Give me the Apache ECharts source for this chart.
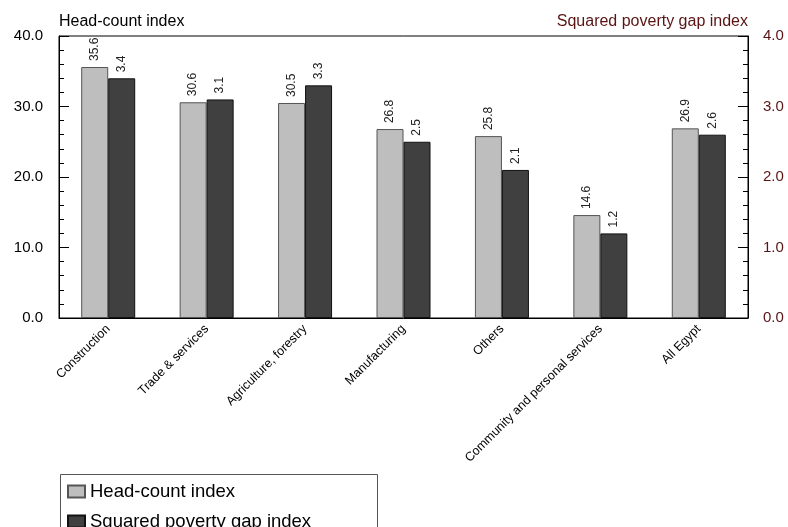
<!DOCTYPE html>
<html>
<head>
<meta charset="utf-8">
<script src="https://cdn.jsdelivr.net/npm/echarts@6/dist/echarts.min.js"></script>
<style>
  html, body { margin: 0; padding: 0; background: #fff; }
  #chart { width: 788px; height: 527px; }
</style>
</head>
<body>
<div id="chart"></div>
<script>
const categories = [
  "Construction",
  "Trade & services",
  "Agriculture, forestry",
  "Manufacturing",
  "Others",
  "Community and personal services",
  "All Egypt"
];
const headCount = [35.6, 30.6, 30.5, 26.8, 25.8, 14.6, 26.9];
const squaredGap = [3.4, 3.1, 3.3, 2.5, 2.1, 1.2, 2.6];

const font = "Liberation Sans, Arial, sans-serif";
const rightColor = "#5a1414";
const lightBar = "#bebebe";
const darkBar = "#404040";

const chart = echarts.init(document.getElementById("chart"));

const barLabel = {
  show: true,
  position: "top",
  rotate: 90,
  align: "left",
  verticalAlign: "middle",
  distance: 6,
  fontFamily: font,
  fontSize: 12,
  color: "#222",
  formatter: p => p.value.toFixed(1)
};

const legendText = { fontFamily: font, fontSize: 18.5, color: "#000" };

chart.setOption({
  animation: false,
  textStyle: { fontFamily: font },
  title: [
    {
      text: "Head-count index",
      left: 59, top: 14,
      padding: 0,
      textStyle: { fontFamily: font, fontSize: 16, fontWeight: "normal", color: "#000" }
    },
    {
      text: "Squared poverty gap index",
      right: 40, top: 14,
      padding: 0,
      textStyle: { fontFamily: font, fontSize: 16, fontWeight: "normal", color: rightColor }
    }
  ],
  grid: {
    left: 59, right: 40, top: 36, bottom: 209,
    show: true, borderColor: "#000", borderWidth: 1
  },
  legend: [
    {
      left: 67, top: 482, padding: 0,
      icon: "rect", itemWidth: 17, itemHeight: 12, itemGap: 4,
      textStyle: legendText,
      data: ["Head-count index"]
    },
    {
      left: 67, top: 512, padding: 0,
      icon: "rect", itemWidth: 17, itemHeight: 12, itemGap: 4,
      textStyle: legendText,
      data: ["Squared poverty gap index"]
    }
  ],
  graphic: [{
    type: "rect",
    shape: { x: 60.5, y: 474.5, width: 317, height: 60 },
    style: { fill: "none", stroke: "#555", lineWidth: 1 }
  }],
  xAxis: {
    type: "category",
    data: categories,
    axisLine: { lineStyle: { color: "#000" } },
    axisTick: { show: false },
    axisLabel: {
      rotate: 45, interval: 0, margin: 9,
      fontFamily: font, fontSize: 12.5, color: "#000"
    }
  },
  yAxis: [
    {
      type: "value", min: 0, max: 40, interval: 10,
      axisLine: { show: true, lineStyle: { color: "#000" } },
      axisTick: { show: true, inside: true, length: 10, lineStyle: { color: "#000" } },
      minorTick: { show: true, splitNumber: 5, length: 5, lineStyle: { color: "#000" } },
      splitLine: { show: false },
      axisLabel: {
        margin: 16, fontFamily: font, fontSize: 15, color: "#000",
        formatter: v => v.toFixed(1)
      }
    },
    {
      type: "value", min: 0, max: 4, interval: 1,
      axisLine: { show: true, lineStyle: { color: "#000" } },
      axisTick: { show: true, inside: true, length: 10, lineStyle: { color: "#000" } },
      minorTick: { show: true, splitNumber: 5, length: 5, lineStyle: { color: "#000" } },
      splitLine: { show: false },
      axisLabel: {
        margin: 15, fontFamily: font, fontSize: 15, color: rightColor,
        formatter: v => v.toFixed(1)
      }
    }
  ],
  series: [
    {
      name: "Head-count index",
      type: "bar",
      yAxisIndex: 0,
      data: headCount,
      barWidth: 27,
      barGap: "0%",
      itemStyle: { color: lightBar, borderColor: "#555", borderWidth: 1 },
      label: barLabel
    },
    {
      name: "Squared poverty gap index",
      type: "bar",
      yAxisIndex: 1,
      data: squaredGap,
      barWidth: 27,
      barGap: "0%",
      itemStyle: { color: darkBar, borderColor: "#111", borderWidth: 1 },
      label: barLabel
    }
  ]
});
</script>
</body>
</html>
